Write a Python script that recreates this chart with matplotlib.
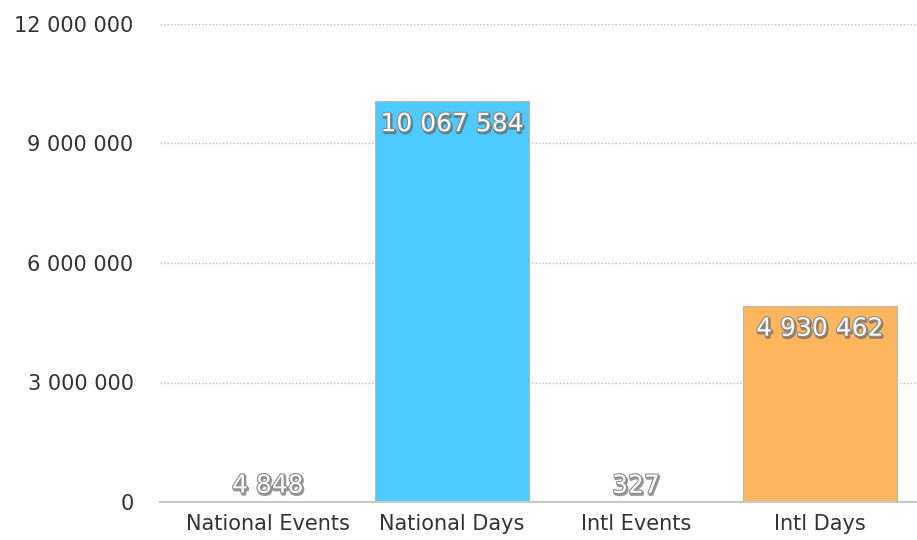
import matplotlib
matplotlib.use('Agg')
import matplotlib.pyplot as plt
import matplotlib.patheffects as pe
from matplotlib.ticker import FuncFormatter

# данные с картинки
categories = ['National Events', 'National Days', 'Intl Events', 'Intl Days']
values = [4848, 10067584, 327, 4930462]
bar_colors = ['#4dcbfe', '#4dcbfe', '#fdb55e', '#fdb55e']
y_ticks = [0, 3000000, 6000000, 9000000, 12000000]


def fmt_space(v, pos=None):
    '''Число с пробелами между тысячами'''
    return '{:,}'.format(int(v)).replace(',', ' ')


fig = plt.figure(figsize=(9.17, 5.4), dpi=100)
ax = fig.add_axes([160 / 917, 38 / 540, 757 / 917, 478 / 540])

x = list(range(len(categories)))
ax.bar(x, values, width=0.84, color=bar_colors, edgecolor='#b8b8b8', linewidth=0.8, zorder=2)

ax.set_xlim(-0.587, 3.527)
ax.set_ylim(0, 12000000)
ax.set_yticks(y_ticks)
ax.yaxis.set_major_formatter(FuncFormatter(fmt_space))
ax.set_xticks(x)
ax.set_xticklabels(categories)

ax.grid(axis='y', linestyle=(0, (1, 1.5)), color='#bbbbbb', linewidth=1.0, zorder=0)
ax.tick_params(axis='y', length=0, pad=19, labelsize=15, labelcolor='#333333')
ax.tick_params(axis='x', length=0, pad=9, labelsize=15, labelcolor='#333333')
for side in ['top', 'right', 'left']:
    ax.spines[side].set_visible(False)
ax.spines['bottom'].set_color('#c8c8c8')
ax.spines['bottom'].set_linewidth(1.5)

# белые подписи с тенью
effects = [pe.SimpleLineShadow(offset=(0.8, -1.2), shadow_color='#555555', alpha=0.6, linewidth=2),
           pe.withStroke(linewidth=1.6, foreground='#8a8a8a')]
for xi, v in zip(x, values):
    label = fmt_space(v)
    if v > 1000000:
        ax.annotate(label, (xi, v), xytext=(0, -8), textcoords='offset points',
                    ha='center', va='top', fontsize=18, color='white',
                    path_effects=effects, zorder=3)
    else:
        ax.annotate(label, (xi, v), xytext=(0, 3), textcoords='offset points',
                    ha='center', va='bottom', fontsize=18, color='white',
                    path_effects=effects, zorder=3)

fig.savefig('out.png', dpi=100)
